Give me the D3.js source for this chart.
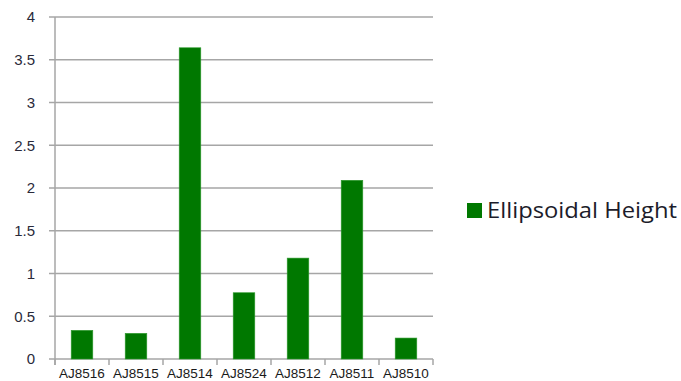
<!DOCTYPE html>
<html>
<head>
<meta charset="utf-8">
<script src="https://cdn.jsdelivr.net/npm/d3@7"></script>
<style>
  html, body { margin: 0; padding: 0; background: #fff; }
  svg { display: block; }
</style>
</head>
<body>
<script>
// Ellipsoidal height per station
const stations = ["AJ8516", "AJ8515", "AJ8514", "AJ8524", "AJ8512", "AJ8511", "AJ8510"];
const heights = [0.335, 0.30, 3.64, 0.775, 1.18, 2.09, 0.245];
const yTicks = [0, 0.5, 1, 1.5, 2, 2.5, 3, 3.5, 4];
const seriesName = "Ellipsoidal Height";

const W = 681, H = 381;
const plot = { left: 55, right: 433, top: 17, bottom: 359 };

const svg = d3.select("body").append("svg").attr("width", W).attr("height", H);

const x = d3.scaleBand().domain(stations).range([plot.left, plot.right]).paddingInner(0.6).paddingOuter(0.3);
const xEdges = d3.scaleBand().domain(stations).range([plot.left, plot.right]);
const y = d3.scaleLinear().domain([0, 4]).range([plot.bottom, plot.top]);

const gridColor = "#a6a6a6";

// horizontal gridlines with short ticks on the left
svg.append("g").selectAll("line").data(yTicks).join("line")
  .attr("x1", plot.left - 6).attr("x2", plot.right)
  .attr("y1", d => y(d)).attr("y2", d => y(d))
  .attr("stroke", gridColor).attr("stroke-width", 1.5);

// vertical axis line
svg.append("line")
  .attr("x1", plot.left).attr("x2", plot.left)
  .attr("y1", plot.top).attr("y2", plot.bottom + 6)
  .attr("stroke", gridColor).attr("stroke-width", 1.5);

// category ticks below the baseline
const edges = stations.map(s => xEdges(s)).concat([plot.right]);
svg.append("g").selectAll("line").data(edges).join("line")
  .attr("x1", d => d).attr("x2", d => d)
  .attr("y1", plot.bottom).attr("y2", plot.bottom + 6)
  .attr("stroke", gridColor).attr("stroke-width", 1.5);

// y labels
svg.append("g").selectAll("text").data(yTicks).join("text")
  .attr("x", 35).attr("y", d => y(d))
  .attr("dy", "0.36em")
  .attr("text-anchor", "end")
  .attr("font-family", "'Liberation Sans', Arial, sans-serif")
  .attr("font-size", 15)
  .attr("fill", "#2a2a3a")
  .text(d => d3.format("~g")(d));

// x labels
svg.append("g").selectAll("text").data(stations).join("text")
  .attr("x", d => xEdges(d) + xEdges.bandwidth() / 2)
  .attr("y", 378)
  .attr("text-anchor", "middle")
  .attr("font-family", "'Liberation Sans', Arial, sans-serif")
  .attr("font-size", 13.5)
  .attr("fill", "#1a1a1a")
  .text(d => d);

// bars
svg.append("g").selectAll("rect").data(stations).join("rect")
  .attr("x", d => x(d))
  .attr("width", x.bandwidth())
  .attr("y", (d, i) => y(heights[i]))
  .attr("height", (d, i) => y(0) - y(heights[i]))
  .attr("fill", "#007800")
  .attr("stroke", "#2e9a2e").attr("stroke-width", 0.6);

// legend
const legend = svg.append("g");
legend.append("rect")
  .attr("x", 467).attr("y", 203).attr("width", 15).attr("height", 15)
  .attr("fill", "#007800");
legend.append("text")
  .attr("x", 487).attr("y", 218)
  .attr("font-family", "'Open Sans', sans-serif")
  .attr("font-size", 22)
  .attr("textLength", 190)
  .attr("lengthAdjust", "spacingAndGlyphs")
  .attr("fill", "#1c1c2a")
  .text(seriesName);
</script>
</body>
</html>
